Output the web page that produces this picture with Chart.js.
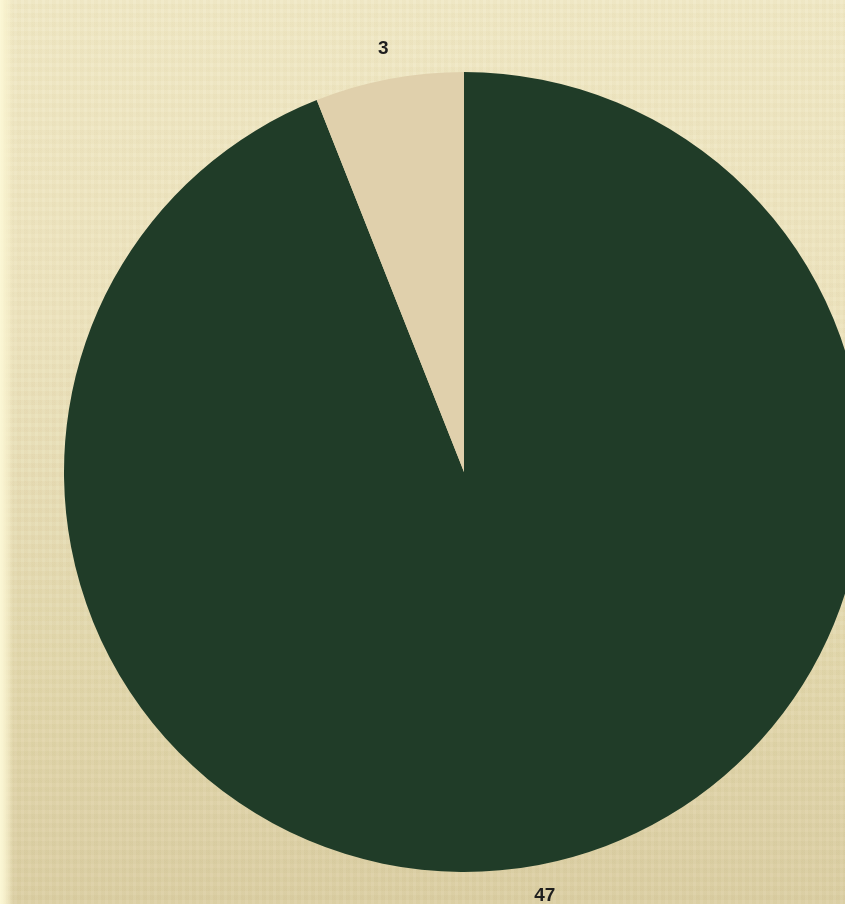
<!DOCTYPE html>
<html>
<head>
<meta charset="utf-8">
<script src="https://cdn.jsdelivr.net/npm/chart.js@4"></script>
<style>
html,body{margin:0;padding:0;width:845px;height:904px;overflow:hidden;}
body{
  background:
    linear-gradient(to right, rgba(252,248,214,1) 0px, rgba(248,242,206,0.9) 5px, rgba(240,232,196,0) 14px),
    repeating-linear-gradient(90deg, rgba(255,255,240,0.05) 0 3px, rgba(190,170,120,0.04) 3px 7px),
    repeating-linear-gradient(0deg, rgba(255,255,240,0.05) 0 4px, rgba(190,170,120,0.04) 4px 9px),
    linear-gradient(to bottom, #EFE8C5 0%, #ECE3BD 35%, #E2D7AD 70%, #DACDA1 100%);
}
#wrap{position:absolute;left:0;top:0;width:928px;height:904px;}
</style>
</head>
<body>
<div id="wrap"><canvas id="c"></canvas></div>
<script>
const categories = ["A", "B"];
const seriesValues = [47, 3];
const sliceColors = ["#203C28", "#E0D0AC"];

const outerLabels = {
  id: 'outerLabels',
  afterDatasetsDraw(chart) {
    const ctx = chart.ctx;
    const meta = chart.getDatasetMeta(0);
    ctx.save();
    ctx.font = 'bold 19px "Liberation Sans", Arial, sans-serif';
    ctx.fillStyle = '#1e1e1e';
    ctx.textAlign = 'center';
    ctx.textBaseline = 'middle';
    meta.data.forEach((arc, i) => {
      const p = arc.getProps(['x','y','startAngle','endAngle','outerRadius'], true);
      const mid = (p.startAngle + p.endAngle) / 2;
      const r = p.outerRadius + 31;
      ctx.fillText(String(chart.data.datasets[0].data[i]), p.x + Math.cos(mid) * r, p.y + Math.sin(mid) * r);
    });
    ctx.restore();
  }
};

new Chart(document.getElementById('c'), {
  type: 'pie',
  data: {
    labels: categories,
    datasets: [{
      data: seriesValues,
      backgroundColor: sliceColors,
      borderWidth: 0
    }]
  },
  options: {
    responsive: true,
    maintainAspectRatio: false,
    animation: false,
    layout: { padding: { left: 64, right: 64, top: 72, bottom: 32 } },
    plugins: {
      legend: { display: false },
      tooltip: { enabled: false }
    }
  },
  plugins: [outerLabels]
});
</script>
</body>
</html>
